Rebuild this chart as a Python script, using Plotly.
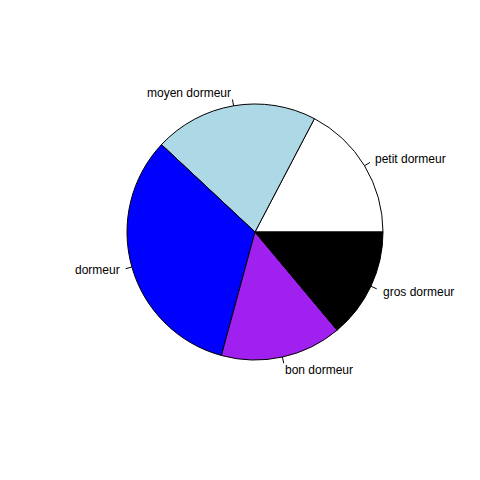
import math
import plotly.graph_objects as go

labels = ["petit dormeur", "moyen dormeur", "dormeur", "bon dormeur", "gros dormeur"]
values = [17.3, 20.7, 32.7, 15.3, 13.9]
colors = ["#FFFFFF", "#ADD8E6", "#0000FF", "#A020F0", "#000000"]

W = H = 480
cx, cy, r = 247, 256, 128  # center in px from bottom-left (page has 8px body margin)

total = sum(values)
first_deg = 360 * values[0] / total

fig = go.Figure(go.Pie(
    labels=labels, values=values, sort=False, direction="counterclockwise",
    rotation=90 - first_deg, textinfo="none", hoverinfo="skip",
    marker=dict(colors=colors, line=dict(color="black", width=1)),
    domain=dict(x=[(cx - r) / W, (cx + r) / W], y=[(cy - r) / H, (cy + r) / H]),
    showlegend=False,
))

cum = 0
anns = []
shapes = []
for lab, v in zip(labels, values):
    mid = 2 * math.pi * (cum + v / 2) / total
    cum += v
    c, s = math.cos(mid), math.sin(mid)
    shapes.append(dict(type="line", xref="paper", yref="paper",
                       x0=(cx + r * c) / W, y0=(cy + r * s) / H,
                       x1=(cx + 1.05 * r * c) / W, y1=(cy + 1.05 * r * s) / H,
                       line=dict(color="black", width=1)))
    anns.append(dict(text=lab, xref="paper", yref="paper", showarrow=False,
                     x=(cx + 1.1 * r * c) / W, y=(cy + 1.1 * r * s) / H,
                     xanchor="left" if c > 0 else "right", yanchor="middle",
                     borderpad=0, borderwidth=0,
                     font=dict(family="Liberation Sans, Arial", size=12, color="black")))

fig.update_layout(width=W, height=H, margin=dict(l=0, r=0, t=0, b=0),
                  paper_bgcolor="white", plot_bgcolor="white",
                  annotations=anns, shapes=shapes)
fig.write_html("out.html")
